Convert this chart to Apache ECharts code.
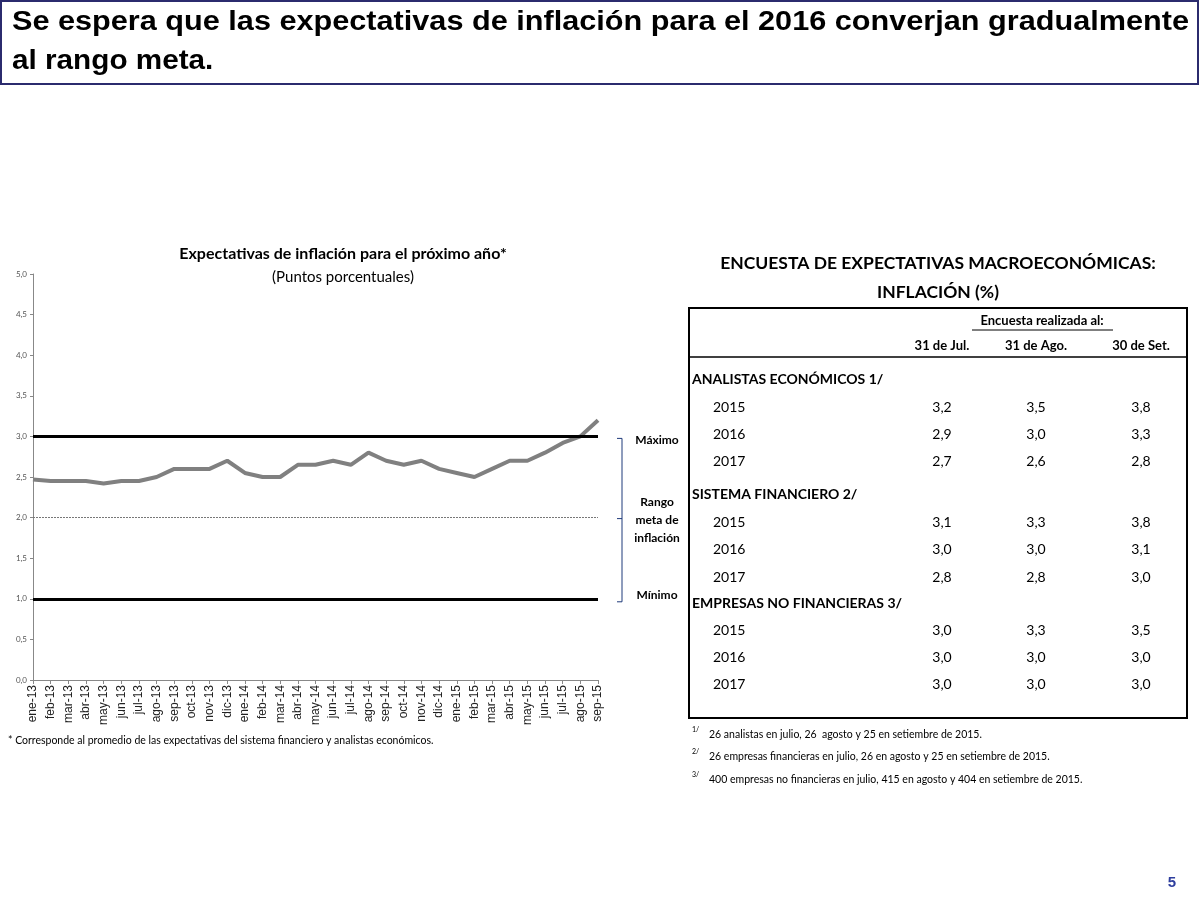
<!DOCTYPE html>
<html><head><meta charset="utf-8">
<script src="https://cdn.jsdelivr.net/npm/echarts/dist/echarts.min.js"></script>
<style>html,body{margin:0;padding:0;background:#fff}#c{width:1200px;height:900px}</style>
</head><body><div id="c"></div>
<script>
// ---- data ----
const months = ['ene-13','feb-13','mar-13','abr-13','may-13','jun-13','jul-13','ago-13','sep-13','oct-13','nov-13','dic-13',
  'ene-14','feb-14','mar-14','abr-14','may-14','jun-14','jul-14','ago-14','sep-14','oct-14','nov-14','dic-14',
  'ene-15','feb-15','mar-15','abr-15','may-15','jun-15','jul-15','ago-15','sep-15'];
const expectations = [2.47,2.45,2.45,2.45,2.42,2.45,2.45,2.50,2.60,2.60,2.60,2.70,
  2.55,2.50,2.50,2.65,2.65,2.70,2.65,2.80,2.70,2.65,2.70,2.60,
  2.55,2.50,2.60,2.70,2.70,2.80,2.92,3.00,3.20];
const targetMax = 3.0, targetMid = 2.0, targetMin = 1.0;
const surveyDates = ['31 de Jul.','31 de Ago.','30 de Set.'];
const surveyYears = ['2015','2016','2017'];
const groupNames = ['ANALISTAS ECONÓMICOS 1/','SISTEMA FINANCIERO 2/','EMPRESAS NO FINANCIERAS 3/'];
const analistas  = [[3.2,3.5,3.8],[2.9,3.0,3.3],[2.7,2.6,2.8]];
const financiero = [[3.1,3.3,3.8],[3.0,3.0,3.1],[2.8,2.8,3.0]];
const empresas   = [[3.0,3.3,3.5],[3.0,3.0,3.0],[3.0,3.0,3.0]];
const footnoteMarks = ['1/','2/','3/'];
const footnoteTexts = ['26 analistas en julio, 26  agosto y 25 en setiembre de 2015.',
  '26 empresas financieras en julio, 26 en agosto y 25 en setiembre de 2015.',
  '400 empresas no financieras en julio, 415 en agosto y 404 en setiembre de 2015.'];

const fmt = v => v.toFixed(1).replace('.', ',');
const CF = 'Lato, "Open Sans", sans-serif';

const chart = echarts.init(document.getElementById('c'));
chart.setOption({
  backgroundColor: '#fff',
  animation: false,
  grid: {left: 33, right: 602, top: 274, bottom: 220},
  xAxis: {
    type: 'category', data: months, boundaryGap: false,
    axisLine: {lineStyle: {color: '#888', width: 1}},
    axisTick: {show: true, length: 4, lineStyle: {color: '#888'}},
    axisLabel: {rotate: 90, interval: 0, fontSize: 12, color: '#222', fontFamily: 'Liberation Sans, Arial', margin: 5}
  },
  yAxis: {
    type: 'value', min: 0, max: 5, interval: 0.5,
    axisLine: {show: true, lineStyle: {color: '#888', width: 1}},
    axisTick: {show: true, length: 3, lineStyle: {color: '#888'}},
    splitLine: {show: false},
    axisLabel: {formatter: v => fmt(v), fontSize: 8, color: '#555', fontFamily: CF, margin: 6}
  },
  series: [{
    type: 'line', data: expectations, symbol: 'none',
    lineStyle: {color: '#808080', width: 4},
    z: 3,
    markLine: {
      silent: true, symbol: 'none', label: {show: false},
      data: [
        {yAxis: targetMax, lineStyle: {color: '#000', width: 3, type: 'solid'}},
        {yAxis: targetMid, lineStyle: {color: '#777', width: 1, type: [2, 1]}},
        {yAxis: targetMin, lineStyle: {color: '#000', width: 3, type: 'solid'}}
      ]
    }
  }]
});

const yMax = chart.convertToPixel({yAxisIndex: 0}, targetMax);
const yMid = chart.convertToPixel({yAxisIndex: 0}, targetMid);
const yMin = chart.convertToPixel({yAxisIndex: 0}, targetMin);

const g = [];
function txt(x, y, text, o) {
  o = o || {};
  const el = {type: 'text', x: x, y: y, silent: true, z: 10, style: {
    text: text, fill: o.fill || '#000', font: (o.weight || 'normal') + ' ' + (o.size || 14) + 'px ' + (o.family || CF),
    textAlign: o.align || 'left', textVerticalAlign: 'middle'}};
  if (o.scaleX) el.scaleX = o.scaleX;
  g.push(el);
}
function line(x1, y1, x2, y2, w, c) {
  g.push({type: 'line', silent: true, z: 10, shape: {x1: x1, y1: y1, x2: x2, y2: y2}, style: {stroke: c || '#000', lineWidth: w || 1}});
}
// title box
g.push({type: 'rect', silent: true, shape: {x: 1, y: 1, width: 1197, height: 83}, style: {fill: 'none', stroke: '#2b2b6e', lineWidth: 2}});
txt(12, 23, 'Se espera que las expectativas de inflación para el 2016 converjan gradualmente', {weight: 'bold', size: 27, family: '"Liberation Sans", Arial', scaleX: 1.135});
txt(12, 62, 'al rango meta.', {weight: 'bold', size: 27, family: '"Liberation Sans", Arial', scaleX: 1.10});
// chart title
txt(343, 254, 'Expectativas de inflación para el próximo año*', {weight: 'bold', size: 16, align: 'center'});
txt(343, 277, '(Puntos porcentuales)', {size: 15, align: 'center'});
txt(8, 741, '* Corresponde al promedio de las expectativas del sistema financiero y analistas económicos.', {size: 10.5});
// bracket
const bc = '#1f3a7a';
line(622, yMax + 2, 622, yMin + 3, 1, bc);
line(617, yMax + 2, 622, yMax + 2, 1, bc);
line(617, yMin + 3, 622, yMin + 3, 1, bc);
line(617, yMid + 1, 622, yMid + 1, 1, bc);
txt(657, yMax + 4, 'Máximo', {weight: 'bold', size: 12, align: 'center'});
txt(657, yMid - 15, 'Rango', {weight: 'bold', size: 12, align: 'center'});
txt(657, yMid + 3, 'meta de', {weight: 'bold', size: 12, align: 'center'});
txt(657, yMid + 21, 'inflación', {weight: 'bold', size: 12, align: 'center'});
txt(657, yMin - 4, 'Mínimo', {weight: 'bold', size: 12, align: 'center'});
// table
txt(938, 263, 'ENCUESTA DE EXPECTATIVAS MACROECONÓMICAS:', {weight: 'bold', size: 17.5, align: 'center'});
txt(938, 292, 'INFLACIÓN (%)', {weight: 'bold', size: 17.5, align: 'center'});
g.push({type: 'rect', silent: true, shape: {x: 689, y: 308, width: 498, height: 410}, style: {fill: 'none', stroke: '#000', lineWidth: 2}});
line(689, 357, 1187, 357, 1.5);
txt(1042, 321, 'Encuesta realizada al:', {weight: 'bold', size: 13, align: 'center'});
line(972, 330, 1113, 330, 1);
const colX = [942, 1036, 1141];
surveyDates.forEach((d, i) => txt(colX[i], 346, d, {weight: 'bold', size: 13, align: 'center'}));
const groups = [analistas, financiero, empresas];
const groupY = [379, 494, 603];
const rowY = [[407, 434, 461], [522, 549, 577], [630, 657, 684]];
groups.forEach((grp, gi) => {
  txt(692, groupY[gi], groupNames[gi], {weight: 'bold', size: 14});
  grp.forEach((row, ri) => {
    txt(713, rowY[gi][ri], surveyYears[ri], {size: 14});
    row.forEach((v, ci) => txt(colX[ci], rowY[gi][ri], fmt(v), {size: 14, align: 'center'}));
  });
});
const fnY = [735, 757, 780];
footnoteMarks.forEach((m, i) => {
  txt(692, fnY[i] - 5, m, {size: 7});
  txt(709, fnY[i], footnoteTexts[i], {size: 10.5});
});
txt(1172, 883, '5', {weight: 'bold', size: 15, align: 'center', fill: '#2e3e9e', family: '"Liberation Sans", Arial'});

chart.setOption({graphic: {elements: g}});
</script></body></html>
